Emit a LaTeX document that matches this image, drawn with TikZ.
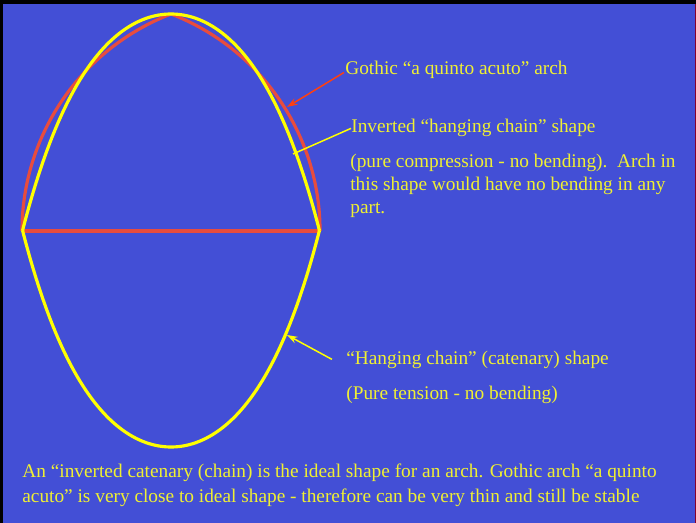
\documentclass[tikz,border=0pt]{standalone}
\usepackage{fontspec}
\setmainfont{Liberation Serif}
\usetikzlibrary{arrows.meta, calc}

\definecolor{slideblue}{RGB}{67,79,214}
\definecolor{archred}{RGB}{232,76,62}
\definecolor{pointred}{RGB}{255,64,16}
\definecolor{chainyellow}{RGB}{255,255,0}
\definecolor{textyellow}{RGB}{240,240,50}

\begin{document}
\begin{tikzpicture}[x=0.02cm, y=-0.02cm,
            gothic/.style={archred, line width=1.8pt},
            chain/.style={chainyellow, line width=1.8pt},
            label/.style={anchor=base west, inner sep=0pt, text=textyellow, font=\fontsize{11}{13.3}\selectfont, align=left},
            redptr/.style={-{Stealth[length=6pt, width=4pt]}, pointred, line width=0.85pt},
            yelptr/.style={chainyellow, line width=0.85pt},
            yelarrow/.style={yelptr, -{Stealth[length=6pt, width=4pt]}}
        ]
            \useasboundingbox (0,0) rectangle (696,523);

            % Slide background and frame
            \fill[slideblue] (0,0) rectangle (696,523);
            \fill[black] (0,0) rectangle (696,4);
            \fill[black] (0,0) rectangle (3,523);
            \draw[purple!70!black, line width=0.4pt] (695.5,4) -- (695.5,523);

            % Springing points and crown
            \coordinate (left) at (22,231);
            \coordinate (right) at (319,231);
            \coordinate (crown) at (171,14);

            % Gothic "a quinto acuto" arch (radius 4/5 of span)
            \draw[gothic] (left) arc[start angle=180, end angle=248.96, radius=232.5];
            \draw[gothic] (crown) arc[start angle=291.04, end angle=360, radius=232.5];
            \draw[gothic] (left) -- (right);

            % Inverted chain and hanging chain
            \draw[chain] plot[domain=-148.5:148.5, samples=90, smooth] ({171+\x}, {14+71.8*(cosh(\x/71.8)-1)});
            \draw[chain] plot[domain=-148.5:148.5, samples=90, smooth] ({171+\x}, {447-71.8*(cosh(\x/71.8)-1)});

            % Free ends on the curves
            \coordinate (onarch) at (287,107);
            \coordinate (oninv) at (293,154);
            \coordinate (onhang) at (287,335);

            % Labels (multi-line ones sit on their last line)
            \node[label] (gothlbl) at (345,75) {Gothic “a quinto acuto” arch};
            \node[label] (invlbl) at (351,133) {Inverted “hanging chain” shape};
            \node[label] (complbl) at (350,214) {(pure compression - no bending).\ \ Arch in\\this shape would have no bending in any\\part.};
            \node[label] (hanglbl) at (346,364) {“Hanging chain” (catenary) shape};
            \node[label] (tenslbl) at (346,399) {(Pure tension - no bending)};
            \node[label, font=\fontsize{11}{14.2}\selectfont] (summary) at (22,502) {An “inverted catenary (chain) is the ideal shape for an arch. Gothic arch “a quinto\\acuto” is very close to ideal shape - therefore can be very thin and still be stable};

            % Pointers
            \draw[redptr] ([shift={(-1,-7)}]gothlbl.south west) -- (onarch);
            \draw[yelptr] (invlbl.west) -- (oninv);
            \draw[yelarrow] ([xshift=-8]hanglbl.west) -- (onhang);
        \end{tikzpicture}
\end{document}
